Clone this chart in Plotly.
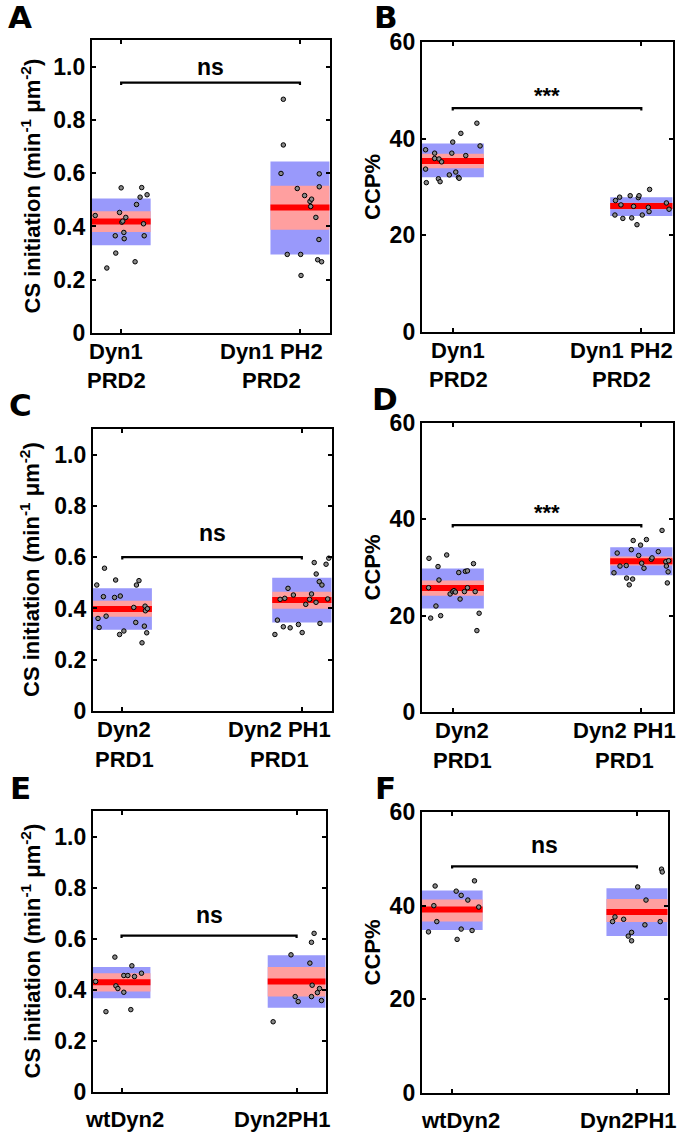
import plotly.graph_objects as go

FONT = "Liberation Sans, Arial, sans-serif"
W, H = 684, 1132

# ---------------- data ----------------
CS_TICKS = [0, 0.2, 0.4, 0.6, 0.8, 1.0]
CS_TICKTEXT = ["0", "0.2", "0.4", "0.6", "0.8", "1.0"]
CCP_TICKS = [0, 20, 40, 60]
CCP_TICKTEXT = ["0", "20", "40", "60"]

# Panel A
A_lab1 = ["Dyn1", "Dyn1 PH2"]
A_lab2 = ["PRD2", "PRD2"]
A_g1 = [0.441, 0.244, 0.300, 0.365, 0.545, 0.4525, 0.416, 0.42, 0.3775, 0.354, 0.434, 0.2675, 0.4825, 0.51, 0.546, 0.41, 0.365, 0.519]
A_g1_jit = [-0.145, -0.08, -0.03, -0.033, 0, -0.009, 0.004, 0.009, 0.015, 0.017, 0.026, 0.078, 0.086, 0.106, 0.115, 0.125, 0.129, 0.145]
A_g2 = [0.8775, 0.706, 0.599, 0.5425, 0.516, 0.494, 0.5025, 0.475, 0.434, 0.5975, 0.549, 0.351, 0.295, 0.295, 0.216, 0.275, 0.2675]
A_g2_jit = [-0.093, -0.093, -0.106, -0.015, 0.026, 0.056, 0.065, 0.06, 0.089, 0.108, 0.108, 0.106, -0.071, 0.004, 0.006, 0.099, 0.121]
A_mean = [0.419, 0.471]
A_sem_lo = [0.379, 0.3875]
A_sem_hi = [0.4575, 0.5525]
A_sd_lo = [0.329, 0.295]
A_sd_hi = [0.505, 0.644]
A_sig = "ns"
A_sig_bar = 0.94
A_sig_txt = 1.0

# Panel B
B_lab1 = ["Dyn1", "Dyn1 PH2"]
B_lab2 = ["PRD2", "PRD2"]
B_g1 = [37.7, 33.7, 30.9, 37.0, 35.9, 35.8, 35.2, 31.7, 31.1, 32.5, 37.0, 39.3, 33.1, 32.0, 31.8, 41.1, 36.5, 43.2, 38.5]
B_g1_jit = [-0.144, -0.144, -0.14, -0.096, -0.096, -0.073, -0.059, -0.076, -0.067, -0.018, -0.005, 0, 0.016, 0.030, 0.034, 0.043, 0.069, 0.128, 0.145]
B_g2 = [27.2, 27.9, 26.3, 24.2, 23.5, 28.2, 23.6, 26.0, 22.2, 27.8, 28.2, 24.2, 25.8, 24.9, 29.5, 26.7, 25.4]
B_g2_jit = [-0.137, -0.115, -0.108, -0.140, -0.098, -0.059, -0.051, -0.041, -0.023, -0.016, -0.012, 0.005, 0.037, 0.041, 0.044, 0.133, 0.147]
B_mean = [35.4, 26.05]
B_sem_lo = [33.9, 25.4]
B_sem_hi = [36.9, 26.75]
B_sd_lo = [32.0, 24.0]
B_sd_hi = [39.0, 27.9]
B_sig = "***"
B_sig_bar = 46.3
B_sig_txt = 49.0

# Panel C
C_lab1 = ["Dyn2", "Dyn2 PH1"]
C_lab2 = ["PRD1", "PRD1"]
C_g1 = [0.4915, 0.557, 0.361, 0.326, 0.446, 0.370, 0.443, 0.511, 0.4485, 0.2985, 0.312, 0.404, 0.3455, 0.4915, 0.5085, 0.266, 0.331, 0.409, 0.391, 0.305, 0.399]
C_g1_jit = [-0.142, -0.099, -0.135, -0.129, -0.105, -0.09, -0.043, -0.037, -0.011, -0.015, 0.009, 0.064, 0.075, 0.079, 0.093, 0.11, 0.123, 0.127, 0.129, 0.136, 0.140]
C_g2 = [0.2985, 0.3545, 0.4355, 0.3285, 0.4395, 0.4785, 0.3245, 0.4525, 0.3375, 0.306, 0.416, 0.4355, 0.4565, 0.424, 0.579, 0.5345, 0.5045, 0.3415, 0.4915, 0.5725, 0.437, 0.596]
C_g2_jit = [-0.150, -0.136, -0.121, -0.103, -0.095, -0.077, -0.065, -0.047, -0.019, 0.002, 0.022, 0.043, 0.054, 0.079, 0.069, 0.080, 0.097, 0.101, 0.112, 0.135, 0.144, 0.150]
C_mean = [0.398, 0.433]
C_sem_lo = [0.368, 0.399]
C_sem_hi = [0.430, 0.4655]
C_sd_lo = [0.317, 0.3455]
C_sd_hi = [0.4785, 0.520]
C_sig = "ns"
C_sig_bar = 0.60
C_sig_txt = 0.694

# Panel D
D_lab1 = ["Dyn2", "Dyn2 PH1"]
D_lab2 = ["PRD1", "PRD1"]
D_g1 = [31.9, 25.8, 19.5, 22.0, 30.2, 27.4, 20.0, 32.6, 24.5, 25.0, 25.2, 24.9, 28.95, 23.45, 25.0, 29.2, 29.3, 25.8, 30.8, 25.0, 16.9, 20.5]
D_g1_jit = [-0.126, -0.128, -0.117, -0.089, -0.078, -0.073, -0.064, -0.032, -0.014, 0, 0.007, 0.014, 0.032, 0.039, 0.062, 0.067, 0.078, 0.078, 0.11, 0.119, 0.128, 0.140]
D_g2 = [28.9, 33.0, 30.3, 30.4, 27.8, 26.4, 33.7, 27.6, 35.6, 32.5, 34.65, 30.9, 29.85, 35.8, 31.7, 32.0, 33.3, 37.7, 31.2, 30.3, 26.8, 29.1, 31.4]
D_g2_jit = [-0.145, -0.128, -0.113, -0.080, -0.078, -0.064, -0.053, -0.046, -0.043, -0.014, -0.004, 0.002, 0.014, 0.027, 0.053, 0.057, 0.090, 0.110, 0.130, 0.133, 0.138, 0.142, 0.145]
D_mean = [25.75, 31.3]
D_sem_lo = [24.15, 30.4]
D_sem_hi = [27.3, 32.3]
D_sd_lo = [21.5, 28.4]
D_sd_hi = [29.8, 34.2]
D_sig = "***"
D_sig_bar = 38.8
D_sig_txt = 41.5

# Panel E
E_lab1 = ["wtDyn2", "Dyn2PH1"]
E_lab2 = ["", ""]
E_g1 = [0.4325, 0.3145, 0.528, 0.4155, 0.405, 0.456, 0.3905, 0.456, 0.3225, 0.494, 0.452, 0.465]
E_g1_jit = [-0.148, -0.089, -0.038, -0.032, -0.021, 0.013, 0.013, 0.036, 0.053, 0.059, 0.074, 0.114]
E_g2 = [0.275, 0.537, 0.3735, 0.354, 0.5045, 0.586, 0.418, 0.3735, 0.621, 0.389, 0.405, 0.358]
E_g2_jit = [-0.134, -0.032, -0.008, 0.009, 0.076, 0.085, 0.089, 0.085, 0.100, 0.119, 0.131, 0.142]
E_mean = [0.430, 0.4325]
E_sem_lo = [0.393, 0.3735]
E_sem_hi = [0.465, 0.489]
E_sd_lo = [0.367, 0.330]
E_sd_hi = [0.489, 0.535]
E_sig = "ns"
E_sig_bar = 0.612
E_sig_txt = 0.692

# Panel F
F_lab1 = ["wtDyn2", "Dyn2PH1"]
F_lab2 = ["", ""]
F_g1 = [34.4, 44.2, 40.0, 36.6, 43.1, 32.8, 42.2, 35.0, 41.2, 34.7, 45.3, 39.7]
F_g1_jit = [-0.128, -0.092, -0.099, -0.083, 0.022, 0.027, 0.049, 0.049, 0.085, 0.108, 0.121, 0.144]
F_g2 = [36.6, 37.6, 37.1, 33.5, 34.3, 32.5, 44.0, 35.9, 41.2, 36.6, 47.8, 47.2]
F_g2_jit = [-0.132, -0.119, -0.072, -0.047, -0.029, -0.029, 0.004, 0.043, 0.049, 0.126, 0.133, 0.137]
F_mean = [39.2, 38.65]
F_sem_lo = [36.6, 36.5]
F_sem_hi = [41.3, 41.45]
F_sd_lo = [34.8, 33.5]
F_sd_hi = [43.25, 43.7]
F_sig = "ns"
F_sig_bar = 48.4
F_sig_txt = 52.9

CS_TITLE = "CS initiation (min<sup>-1</sup> μm<sup>-2</sup>)"
CCP_TITLE = "CCP%"

# ---------------- layout geometry (pixels) ----------------
# (left, right, top, bottom) of each plot frame
FRAMES = {
    "A": (92, 330, 40, 333),
    "B": (422, 673, 42, 332),
    "C": (93, 332, 429, 711),
    "D": (422, 673, 423, 712),
    "E": (93, 326, 811, 1092),
    "F": (422, 668, 812, 1093),
}
# horizontal centres of the category label text (pixels)
LABEL_X = {"A": (116, 271), "B": (458, 621), "C": (124, 279), "D": (462, 624),
           "E": (124, 282), "F": (460, 628)}
LETTER_POS = {"A": (20, 17), "B": (386, 17), "C": (20, 405), "D": (385, 399), "E": (20, 788), "F": (385, 788)}
YTITLE_X = {"left": 30, "right": 372}

panels = [
    ("A", A_lab1, A_lab2, A_g1, A_g1_jit, A_g2, A_g2_jit, A_mean, A_sem_lo, A_sem_hi, A_sd_lo, A_sd_hi, A_sig, A_sig_bar, A_sig_txt, "cs"),
    ("B", B_lab1, B_lab2, B_g1, B_g1_jit, B_g2, B_g2_jit, B_mean, B_sem_lo, B_sem_hi, B_sd_lo, B_sd_hi, B_sig, B_sig_bar, B_sig_txt, "ccp"),
    ("C", C_lab1, C_lab2, C_g1, C_g1_jit, C_g2, C_g2_jit, C_mean, C_sem_lo, C_sem_hi, C_sd_lo, C_sd_hi, C_sig, C_sig_bar, C_sig_txt, "cs"),
    ("D", D_lab1, D_lab2, D_g1, D_g1_jit, D_g2, D_g2_jit, D_mean, D_sem_lo, D_sem_hi, D_sd_lo, D_sd_hi, D_sig, D_sig_bar, D_sig_txt, "ccp"),
    ("E", E_lab1, E_lab2, E_g1, E_g1_jit, E_g2, E_g2_jit, E_mean, E_sem_lo, E_sem_hi, E_sd_lo, E_sd_hi, E_sig, E_sig_bar, E_sig_txt, "cs"),
    ("F", F_lab1, F_lab2, F_g1, F_g1_jit, F_g2, F_g2_jit, F_mean, F_sem_lo, F_sem_hi, F_sd_lo, F_sd_hi, F_sig, F_sig_bar, F_sig_txt, "ccp"),
]

BLUE = "#9999fb"
PINK = "#ff9f9f"
RED = "#ff0000"
HALF = 0.165
CATS = [1, 2]


def bold(size, family=FONT):
    return dict(size=size, family=family, color="black", weight="bold")


fig = go.Figure()
layout = dict(
    template="none",
    width=W, height=H, margin=dict(l=0, r=0, t=0, b=0, pad=0, autoexpand=False),
    paper_bgcolor="white", plot_bgcolor="white", showlegend=False,
    barmode="overlay", font=bold(16),
)
annotations = []

for i, (key, lab1, lab2, g1, j1, g2, j2, mean, sem_lo, sem_hi, sd_lo, sd_hi, sig, sig_bar, sig_txt, kind) in enumerate(panels):
    n = "" if i == 0 else str(i + 1)
    xa, ya = "x" + n, "y" + n
    l, r, t, b = FRAMES[key]
    ymax = 1.1 if kind == "cs" else 60
    # SD band
    fig.add_trace(go.Bar(x=CATS, y=[h - lo for h, lo in zip(sd_hi, sd_lo)], base=sd_lo, width=2 * HALF,
                         marker=dict(color=BLUE, line=dict(width=0)), xaxis=xa, yaxis=ya, hoverinfo="skip"))
    # SEM band
    fig.add_trace(go.Bar(x=CATS, y=[h - lo for h, lo in zip(sem_hi, sem_lo)], base=sem_lo, width=2 * HALF,
                         marker=dict(color=PINK, line=dict(width=0)), xaxis=xa, yaxis=ya, hoverinfo="skip"))
    # mean lines
    mx, my = [], []
    for c, m in zip(CATS, mean):
        mx += [c - HALF, c + HALF, None]
        my += [m, m, None]
    fig.add_trace(go.Scatter(x=mx, y=my, mode="lines", line=dict(color=RED, width=6),
                             xaxis=xa, yaxis=ya, hoverinfo="skip"))
    # points
    for c, vals, jit in ((1, g1, j1), (2, g2, j2)):
        fig.add_trace(go.Scatter(x=[c + d for d in jit], y=vals, mode="markers",
                                 marker=dict(size=4.5, color="#8a8a8a", line=dict(color="#000000", width=1)),
                                 xaxis=xa, yaxis=ya))
    # significance bracket
    tick = ymax * 0.008
    fig.add_trace(go.Scatter(x=[CATS[0], CATS[0], CATS[1], CATS[1]],
                             y=[sig_bar - tick, sig_bar, sig_bar, sig_bar - tick],
                             mode="lines", line=dict(color="black", width=2.2),
                             xaxis=xa, yaxis=ya, hoverinfo="skip"))
    annotations.append(dict(x=1.5, y=sig_txt, xref=xa, yref=ya, text=sig, showarrow=False,
                            font=bold(23 if sig == "ns" else 22), yanchor="middle"))

    axis_common = dict(showline=True, linewidth=2.2, linecolor="black", mirror="allticks",
                       ticks="inside", ticklen=4, tickwidth=2, tickcolor="black", automargin=False,
                       showgrid=False, zeroline=False, fixedrange=True)
    layout["xaxis" + n] = dict(axis_common, domain=[l / W, r / W], anchor=ya,
                               range=[1 - (CATS[1] - CATS[0]) * 0.163, 2 + (CATS[1] - CATS[0]) * 0.168],
                               tickvals=CATS, showticklabels=False)
    layout["yaxis" + n] = dict(axis_common, domain=[1 - b / H, 1 - t / H], anchor=xa,
                               range=[0, ymax],
                               tickvals=CS_TICKS if kind == "cs" else CCP_TICKS,
                               ticktext=CS_TICKTEXT if kind == "cs" else CCP_TICKTEXT,
                               tickfont=bold(23))
    # category labels (one or two lines)
    single = all(s == "" for s in lab2)
    for cx, s1, s2 in zip(LABEL_X[key], lab1, lab2):
        y1 = b + (27 if single else 18)
        annotations.append(dict(x=cx / W, y=1 - y1 / H, xref="paper", yref="paper", text=s1, showarrow=False,
                                xanchor="center", yanchor="middle", font=bold(22)))
        if s2:
            annotations.append(dict(x=cx / W, y=1 - (b + 48) / H, xref="paper", yref="paper", text=s2,
                                    showarrow=False, xanchor="center", yanchor="middle", font=bold(22)))
    # y title
    tx = YTITLE_X["left"] if l < 200 else YTITLE_X["right"]
    annotations.append(dict(x=tx / W, y=1 - (t + b) / 2 / H, xref="paper", yref="paper",
                            text=CS_TITLE if kind == "cs" else CCP_TITLE, textangle=-90, showarrow=False,
                            xanchor="center", yanchor="middle", font=bold(22)))
    # panel letter
    lx, ly = LETTER_POS[key]
    annotations.append(dict(x=lx / W, y=1 - ly / H, xref="paper", yref="paper", text=key, showarrow=False,
                            xanchor="center", yanchor="middle", font=bold(31, "DejaVu Sans")))

layout["annotations"] = annotations
fig.update_layout(**layout)
fig.write_html("out.html", config={"displayModeBar": False, "staticPlot": True},
               post_script="document.body.style.margin='0';document.body.style.overflow='hidden';")
